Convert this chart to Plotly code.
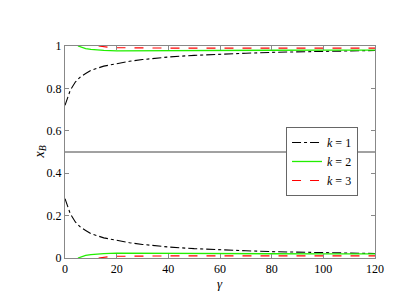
import plotly.graph_objects as go

# k = 1 (dash-dot, black)
gamma_k1 = [0, 1, 2, 4, 6, 8, 10, 15, 20, 25, 30, 40, 50, 60, 70, 80, 90, 100, 110, 120]
upper_k1 = [0.72, 0.76, 0.79, 0.83, 0.855, 0.87, 0.885, 0.905, 0.918, 0.928, 0.936, 0.948, 0.956, 0.962, 0.966, 0.970, 0.973, 0.975, 0.977, 0.979]
lower_k1 = [1 - v for v in upper_k1]

# k = 2 (solid, green)
gamma_k2 = [5, 6, 7, 8, 10, 12, 15, 20, 25, 30, 40, 60, 80, 100, 120]
upper_k2 = [1.0, 0.995, 0.991, 0.988, 0.984, 0.981, 0.979, 0.977, 0.977, 0.977, 0.978, 0.979, 0.980, 0.981, 0.981]
lower_k2 = [1 - v for v in upper_k2]

# k = 3 (dashed, red)
gamma_k3 = [13, 14, 15, 17, 20, 25, 30, 40, 60, 80, 100, 120]
upper_k3 = [1.0, 0.998, 0.996, 0.994, 0.992, 0.991, 0.990, 0.990, 0.990, 0.990, 0.990, 0.990]
lower_k3 = [1 - v for v in upper_k3]

mid_x = [0, 120]
mid_y = [0.5, 0.5]

x_ticks = [0, 20, 40, 60, 80, 100, 120]
y_ticks = [0, 0.2, 0.4, 0.6, 0.8, 1]
y_tick_labels = ["0", "0.2", "0.4", "0.6", "0.8", "1"]

font_family = "Liberation Serif, DejaVu Serif, Times New Roman, serif"

fig = go.Figure()
fig.add_trace(go.Scatter(x=mid_x, y=mid_y, mode="lines", line=dict(color="#444444", width=1),
                         showlegend=False, hoverinfo="skip"))

series = [
    ("<i>k</i> = 1", gamma_k1, upper_k1, lower_k1, "black", "dashdot", 1.1),
    ("<i>k</i> = 2", gamma_k2, upper_k2, lower_k2, "#22ee00", "solid", 1.3),
    ("<i>k</i> = 3", gamma_k3, upper_k3, lower_k3, "#ff0000", "dash", 1.1),
]
for name, gx, up, lo, color, dash, w in series:
    fig.add_trace(go.Scatter(x=gx, y=up, mode="lines", name=name, legendgroup=name,
                             line=dict(color=color, dash=dash, width=w)))
    fig.add_trace(go.Scatter(x=gx, y=lo, mode="lines", name=name, legendgroup=name, showlegend=False,
                             line=dict(color=color, dash=dash, width=w)))

axis_common = dict(showgrid=False, zeroline=False, showline=True, linecolor="#888888", linewidth=1,
                   mirror="allticks", ticks="inside", ticklen=4, tickcolor="#888888",
                   tickfont=dict(family=font_family, size=12, color="black"))

fig.update_xaxes(range=[0, 120], tickvals=x_ticks, ticktext=[str(t) for t in x_ticks], **axis_common)
fig.update_yaxes(range=[0, 1], tickvals=y_ticks, ticktext=y_tick_labels, **axis_common)

fig.add_annotation(text="<i>γ</i>", xref="paper", yref="paper", x=0.5, y=0, yshift=-35,
                   showarrow=False, font=dict(family=font_family, size=13, color="black"))
fig.add_annotation(text="<i>x</i><sub><i>B</i></sub>", xref="paper", yref="paper", x=0, y=0.5,
                   xshift=-36, textangle=-90, showarrow=False,
                   font=dict(family=font_family, size=14, color="black"))

fig.update_layout(
    width=399, height=296,
    margin=dict(l=57, r=32, t=38, b=46),
    paper_bgcolor="white", plot_bgcolor="white",
    font=dict(family=font_family, size=13, color="black"),
    legend=dict(x=0.713, y=0.618, xanchor="left", yanchor="top",
                bgcolor="white", bordercolor="#666666", borderwidth=1,
                font=dict(family=font_family, size=12), tracegroupgap=0,
                itemwidth=30),
)

fig.write_html("out.html")
